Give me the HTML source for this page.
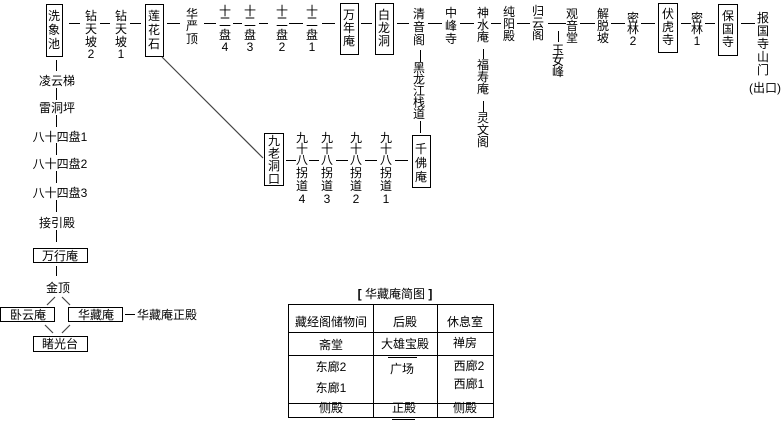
<!DOCTYPE html>
<html><head><meta charset="utf-8"><style>
html,body{margin:0;padding:0;background:#fff;}
svg{display:block;}
text{font-family:"Liberation Sans","Noto Sans CJK SC",sans-serif;font-size:12px;fill:#000;text-anchor:middle;}
</style></head><body>
<svg width="782" height="421" viewBox="0 0 782 421" xmlns="http://www.w3.org/2000/svg">
<g stroke="#000" stroke-width="1" fill="none" shape-rendering="crispEdges">
<rect x="46.5" y="4.5" width="16" height="52"/>
<rect x="145.5" y="4.5" width="18" height="52"/>
<rect x="340.5" y="3.5" width="18" height="51"/>
<rect x="375.5" y="3.5" width="18" height="51"/>
<rect x="658.5" y="3.5" width="19" height="49"/>
<rect x="718.5" y="4.5" width="19" height="51"/>
<rect x="412.5" y="135.5" width="18" height="52"/>
<rect x="264.5" y="133.5" width="19" height="52"/>
<path d="M69 23.5H80 M100 23.5H110 M130 23.5H141 M167 23.5H180 M204 23.5H216 M233 23.5H242 M259 23.5H268 M289 23.5H303 M322 23.5H335 M361 23.5H372 M397 23.5H409 M428 23.5H442 M460 23.5H474 M491 23.5H501 M517 23.5H530 M548 23.5H566 M580 23.5H595 M611 23.5H625 M641 23.5H655 M681 23.5H691 M705 23.5H715 M741 23.5H755"/>
<path d="M420.5 50V62 M420.5 121V133 M483.5 49V59 M483.5 101V112 M558.5 31V42"/>
<path d="M286 160.5H296 M309 160.5H319 M336 160.5H348 M365 160.5H377 M395 160.5H408"/>
<path d="M56.5 60V71 M56.5 88V100 M56.5 115V127 M56.5 143V155 M56.5 171V183 M56.5 200V212 M56.5 230V242 M56.5 266V276"/>
<rect x="33.5" y="248.5" width="54" height="14"/>
<rect x="0.5" y="307.5" width="54" height="14"/>
<rect x="68.5" y="307.5" width="54" height="14"/>
<rect x="33.5" y="336.5" width="54" height="15"/>
<path d="M125 314.5H135"/>
<rect x="288.5" y="304.5" width="205" height="113"/>
<path d="M373.5 304V418 M437.5 304V418 M288 332.5H494 M288 355.5H494 M288 403.5H494 M388 357.5H417 M392 419.5H415"/>
</g>
<g stroke="#444" stroke-width="1.2" fill="none">
<path d="M162 57 L263 158"/>
<path d="M55 297 L47 305 M62 297 L70 305 M45 325 L53 333 M70 325 L62 333"/>
</g>

<text x="54" y="20">洗<tspan x="54" dy="14">象</tspan><tspan x="54" dy="14">池</tspan></text>
<text x="91" y="20">钻<tspan x="91" dy="13">天</tspan><tspan x="91" dy="13">坡</tspan><tspan x="91" dy="12">2</tspan></text>
<text x="121" y="20">钻<tspan x="121" dy="13">天</tspan><tspan x="121" dy="13">坡</tspan><tspan x="121" dy="12">1</tspan></text>
<text x="154" y="20">莲<tspan x="154" dy="14">花</tspan><tspan x="154" dy="14">石</tspan></text>
<text x="192" y="18">华<tspan x="192" dy="12">严</tspan><tspan x="192" dy="13">顶</tspan></text>
<text x="225" y="15">十<tspan x="225" dy="11">二</tspan><tspan x="225" dy="13">盘</tspan><tspan x="225" dy="12">4</tspan></text>
<text x="250" y="15">十<tspan x="250" dy="11">二</tspan><tspan x="250" dy="13">盘</tspan><tspan x="250" dy="12">3</tspan></text>
<text x="282" y="15">十<tspan x="282" dy="11">二</tspan><tspan x="282" dy="13">盘</tspan><tspan x="282" dy="12">2</tspan></text>
<text x="312" y="15">十<tspan x="312" dy="11">二</tspan><tspan x="312" dy="13">盘</tspan><tspan x="312" dy="12">1</tspan></text>
<text x="349" y="19">万<tspan x="349" dy="13">年</tspan><tspan x="349" dy="13">庵</tspan></text>
<text x="384" y="19">白<tspan x="384" dy="13">龙</tspan><tspan x="384" dy="13">洞</tspan></text>
<text x="419" y="18">清<tspan x="419" dy="13">音</tspan><tspan x="419" dy="13">阁</tspan></text>
<text x="419" y="72">黑<tspan x="419" dy="11.5">龙</tspan><tspan x="419" dy="11.5">江</tspan><tspan x="419" dy="11.5">栈</tspan><tspan x="419" dy="11.5">道</tspan></text>
<text x="421" y="153">千<tspan x="421" dy="14">佛</tspan><tspan x="421" dy="14">庵</tspan></text>
<text x="451" y="17">中<tspan x="451" dy="13">峰</tspan><tspan x="451" dy="13">寺</tspan></text>
<text x="483" y="17">神<tspan x="483" dy="12">水</tspan><tspan x="483" dy="12">庵</tspan></text>
<text x="483" y="69">福<tspan x="483" dy="12">寿</tspan><tspan x="483" dy="12">庵</tspan></text>
<text x="483" y="122">灵<tspan x="483" dy="12">文</tspan><tspan x="483" dy="12">阁</tspan></text>
<text x="509" y="16">纯<tspan x="509" dy="12">阳</tspan><tspan x="509" dy="12">殿</tspan></text>
<text x="538" y="15">归<tspan x="538" dy="12">云</tspan><tspan x="538" dy="12">阁</tspan></text>
<text x="558" y="54">玉<tspan x="558" dy="11">女</tspan><tspan x="558" dy="11">峰</tspan></text>
<text x="572" y="18">观<tspan x="572" dy="12">音</tspan><tspan x="572" dy="12">堂</tspan></text>
<text x="603" y="18">解<tspan x="603" dy="12">脱</tspan><tspan x="603" dy="12">坡</tspan></text>
<text x="633" y="22">密<tspan x="633" dy="11">林</tspan><tspan x="633" dy="12">2</tspan></text>
<text x="668" y="18">伏<tspan x="668" dy="13">虎</tspan><tspan x="668" dy="13">寺</tspan></text>
<text x="697" y="22">密<tspan x="697" dy="11">林</tspan><tspan x="697" dy="12">1</tspan></text>
<text x="728" y="20">保<tspan x="728" dy="13">国</tspan><tspan x="728" dy="13">寺</tspan></text>
<text x="763" y="22">报<tspan x="763" dy="13">国</tspan><tspan x="763" dy="13">寺</tspan><tspan x="763" dy="13">山</tspan><tspan x="763" dy="13">门</tspan></text>
<text x="765" y="92">(出口)</text>

<text x="274" y="145">九<tspan x="274" dy="12.6">老</tspan><tspan x="274" dy="12.6">洞</tspan><tspan x="274" dy="12.6">口</tspan></text>
<text x="302" y="142">九<tspan x="302" dy="11">十</tspan><tspan x="302" dy="11">八</tspan><tspan x="302" dy="13">拐</tspan><tspan x="302" dy="13">道</tspan><tspan x="302" dy="13">4</tspan></text>
<text x="327" y="142">九<tspan x="327" dy="11">十</tspan><tspan x="327" dy="11">八</tspan><tspan x="327" dy="13">拐</tspan><tspan x="327" dy="13">道</tspan><tspan x="327" dy="13">3</tspan></text>
<text x="356" y="142">九<tspan x="356" dy="11">十</tspan><tspan x="356" dy="11">八</tspan><tspan x="356" dy="13">拐</tspan><tspan x="356" dy="13">道</tspan><tspan x="356" dy="13">2</tspan></text>
<text x="386" y="142">九<tspan x="386" dy="11">十</tspan><tspan x="386" dy="11">八</tspan><tspan x="386" dy="13">拐</tspan><tspan x="386" dy="13">道</tspan><tspan x="386" dy="13">1</tspan></text>

<text x="57" y="85">凌云梯</text>
<text x="57" y="112">雷洞坪</text>
<text x="60" y="141">八十四盘1</text>
<text x="60" y="168">八十四盘2</text>
<text x="60" y="197">八十四盘3</text>
<text x="57" y="227">接引殿</text>
<text x="60" y="260">万行庵</text>
<text x="58" y="292">金顶</text>
<text x="28" y="319">卧云庵</text>
<text x="96" y="319">华藏庵</text>
<text x="167" y="319">华藏庵正殿</text>
<text x="60" y="348">睹光台</text>

<text x="395" y="298" style="font-weight:bold">[ <tspan style="font-weight:normal">华藏庵简图</tspan> ]</text>
<text x="331" y="326">藏经阁储物间</text>
<text x="405" y="326">后殿</text>
<text x="465" y="326">休息室</text>
<text x="331" y="349">斋堂</text>
<text x="405" y="348">大雄宝殿</text>
<text x="465" y="347">禅房</text>
<text x="331" y="371">东廊2</text>
<text x="331" y="392">东廊1</text>
<text x="402" y="373">广场</text>
<text x="469" y="370">西廊2</text>
<text x="469" y="388">西廊1</text>
<text x="331" y="412">侧殿</text>
<text x="404" y="412">正殿</text>
<text x="465" y="412">侧殿</text>
</svg>
</body></html>
